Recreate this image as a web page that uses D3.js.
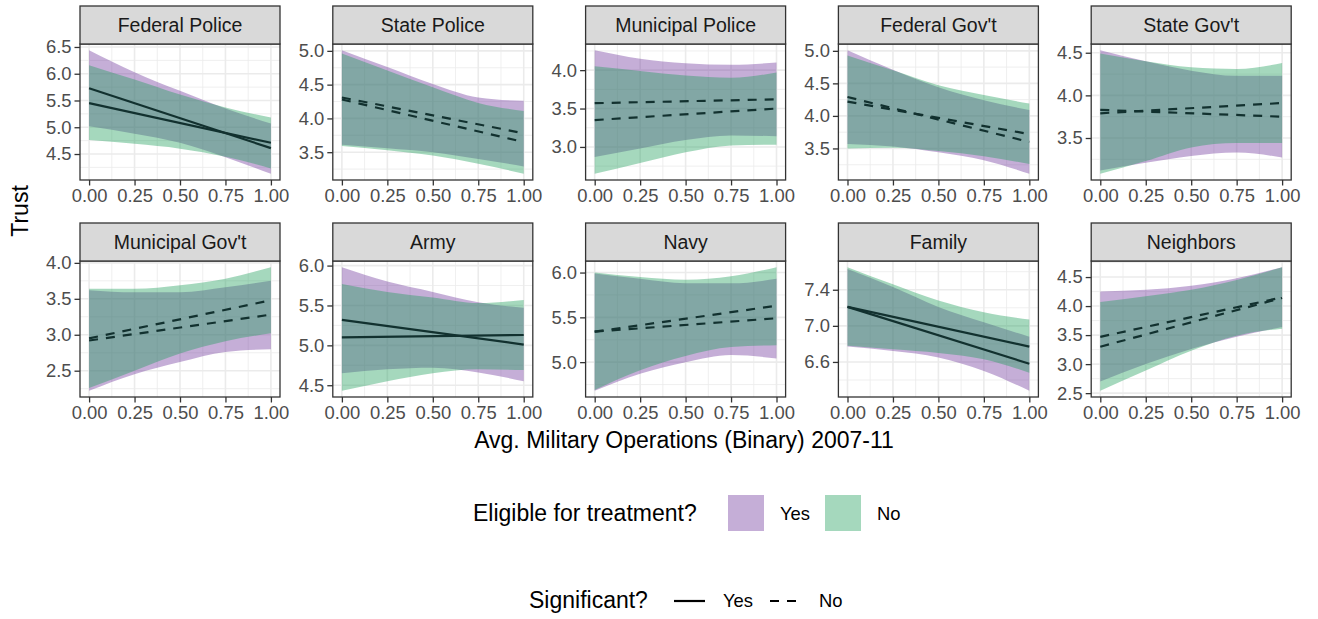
<!DOCTYPE html>
<html>
<head>
<meta charset="utf-8">
<script src="https://cdn.jsdelivr.net/npm/d3@7"></script>
<style>
  body { margin: 0; background: #fff; }
  svg { font-family: "Liberation Sans", Arial, sans-serif; }
</style>
</head>
<body>
<script>
let W = 1318, H = 619;

// data
let panels = ["Federal Police", "State Police", "Municipal Police", "Federal Gov't", "State Gov't",
              "Municipal Gov't", "Army", "Navy", "Family", "Neighbors"];
let xKnots = [0, 0.25, 0.5, 0.75, 1];
let xTicks = [0, 0.25, 0.5, 0.75, 1];

let yesUpper = [
  [6.44, 6.03, 5.68, 5.35, 5.07],
  [5.01, 4.76, 4.51, 4.31, 4.26],
  [4.26, 4.15, 4.09, 4.07, 4.10],
  [5.01, 4.71, 4.44, 4.24, 4.09],
  [4.53, 4.40, 4.29, 4.23, 4.23],
  [3.62, 3.59, 3.59, 3.66, 3.75],
  [5.98, 5.80, 5.67, 5.54, 5.47],
  [5.99, 5.93, 5.88, 5.88, 5.93],
  [7.63, 7.43, 7.21, 7.04, 6.88],
  [4.25, 4.28, 4.35, 4.48, 4.67]
];
let yesLower = [
  [5.02, 4.88, 4.71, 4.44, 4.13],
  [3.61, 3.56, 3.50, 3.40, 3.29],
  [2.87, 2.98, 3.09, 3.15, 3.14],
  [3.57, 3.53, 3.44, 3.32, 3.11],
  [3.12, 3.21, 3.29, 3.33, 3.27],
  [2.22, 2.45, 2.62, 2.76, 2.80],
  [4.65, 4.70, 4.72, 4.66, 4.55],
  [4.68, 4.87, 5.00, 5.08, 5.04],
  [6.77, 6.72, 6.65, 6.50, 6.28],
  [2.70, 3.00, 3.26, 3.47, 3.64]
];
let noUpper = [
  [6.16, 5.89, 5.61, 5.37, 5.18],
  [4.96, 4.71, 4.46, 4.23, 4.11],
  [4.05, 3.99, 3.93, 3.90, 3.97],
  [4.93, 4.70, 4.47, 4.32, 4.19],
  [4.49, 4.40, 4.33, 4.31, 4.38],
  [3.64, 3.64, 3.69, 3.78, 3.94],
  [5.77, 5.67, 5.60, 5.53, 5.57],
  [6.00, 5.95, 5.92, 5.96, 6.06],
  [7.65, 7.46, 7.28, 7.15, 7.07],
  [4.07, 4.17, 4.28, 4.45, 4.67]
];
let noLower = [
  [4.76, 4.69, 4.60, 4.45, 4.23],
  [3.59, 3.53, 3.45, 3.33, 3.18],
  [2.65, 2.79, 2.93, 3.02, 3.03],
  [3.50, 3.51, 3.46, 3.38, 3.26],
  [3.08, 3.23, 3.39, 3.44, 3.44],
  [2.26, 2.50, 2.74, 2.91, 3.02],
  [4.43, 4.55, 4.65, 4.70, 4.69],
  [4.69, 4.91, 5.07, 5.17, 5.19],
  [6.78, 6.74, 6.70, 6.63, 6.48],
  [2.54, 2.89, 3.23, 3.49, 3.61]
];
// straight fitted lines: value at x=0 and x=1
let yesLine = [[5.73, 4.61], [4.31, 3.78], [3.57, 3.62], [4.29, 3.60], [3.83, 3.75],
               [2.92, 3.28], [5.32, 5.01], [5.34, 5.49], [7.21, 6.58], [3.47, 4.15]];
let noLine  = [[5.45, 4.71], [4.28, 3.65], [3.35, 3.50], [4.22, 3.72], [3.79, 3.91],
               [2.95, 3.48], [5.10, 5.13], [5.34, 5.63], [7.21, 6.77], [3.30, 4.14]];
let significant = [true, false, false, false, false, false, true, false, true, false];
let yTicks = [
  [4.5, 5.0, 5.5, 6.0, 6.5],
  [3.5, 4.0, 4.5, 5.0],
  [3.0, 3.5, 4.0],
  [3.5, 4.0, 4.5, 5.0],
  [3.5, 4.0, 4.5],
  [2.5, 3.0, 3.5, 4.0],
  [4.5, 5.0, 5.5, 6.0],
  [5.0, 5.5, 6.0],
  [6.6, 7.0, 7.4],
  [2.5, 3.0, 3.5, 4.0, 4.5]
];

let groups = ["Yes", "No"];
let fillColors = { Yes: "#6e349b", No: "#1e9d5a" };
let fillAlpha = 0.4;
let lineColor = "#12312f";
let dash = "9,8";

let svg = d3.select("body").append("svg")
  .attr("width", W).attr("height", H);

let pad = { left: 80, step: 252.8, w: 200 };
let rowStrip = [6, 223];
let stripH = 38;
let plotH = 136;

let smallFont = 18.4, stripFont = 19.5, bigFont = 23;

panels.forEach((name, i) => {
  let col = i % 5, row = Math.floor(i / 5);
  let x0 = pad.left + col * pad.step;
  let top = rowStrip[row] + stripH;
  let g = svg.append("g").attr("transform", "translate(" + x0 + "," + top + ")");

  let xScale = d3.scaleLinear().domain([-0.05, 1.05]).range([0, pad.w]);
  let all = yesUpper[i].concat(yesLower[i], noUpper[i], noLower[i]);
  let ext = d3.extent(all);
  let e = (ext[1] - ext[0]) * 0.05;
  let yScale = d3.scaleLinear().domain([ext[0] - e, ext[1] + e]).range([plotH, 0]);

  // grid
  let st = yTicks[i][1] - yTicks[i][0];
  let minorY = [];
  for (let k = -1; k < yTicks[i].length; k++) {
    let v = yTicks[i][0] + st * (k + 0.5);
    if (v > yScale.domain()[0] && v < yScale.domain()[1]) minorY.push(v);
  }
  let minorX = [0.125, 0.375, 0.625, 0.875];
  g.selectAll(".gmy").data(minorY).enter().append("line")
    .attr("x1", 0).attr("x2", pad.w)
    .attr("y1", d => yScale(d)).attr("y2", d => yScale(d))
    .attr("stroke", "#ebebeb").attr("stroke-width", 0.8);
  g.selectAll(".gmx").data(minorX).enter().append("line")
    .attr("y1", 0).attr("y2", plotH)
    .attr("x1", d => xScale(d)).attr("x2", d => xScale(d))
    .attr("stroke", "#ebebeb").attr("stroke-width", 0.8);
  g.selectAll(".gy").data(yTicks[i]).enter().append("line")
    .attr("x1", 0).attr("x2", pad.w)
    .attr("y1", d => yScale(d)).attr("y2", d => yScale(d))
    .attr("stroke", "#ebebeb").attr("stroke-width", 1.6);
  g.selectAll(".gx").data(xTicks).enter().append("line")
    .attr("y1", 0).attr("y2", plotH)
    .attr("x1", d => xScale(d)).attr("x2", d => xScale(d))
    .attr("stroke", "#ebebeb").attr("stroke-width", 1.6);

  // ribbons
  let bands = {
    Yes: xKnots.map((x, k) => ({ x: x, lo: yesLower[i][k], hi: yesUpper[i][k] })),
    No: xKnots.map((x, k) => ({ x: x, lo: noLower[i][k], hi: noUpper[i][k] }))
  };
  let area = d3.area()
    .x(d => xScale(d.x))
    .y0(d => yScale(d.lo))
    .y1(d => yScale(d.hi))
    .curve(d3.curveMonotoneX);
  groups.forEach(gr => {
    g.append("path")
      .attr("d", area(bands[gr]))
      .attr("fill", fillColors[gr])
      .attr("fill-opacity", fillAlpha);
  });

  // fitted lines
  let lines = { Yes: yesLine[i], No: noLine[i] };
  let line = d3.line().x(d => xScale(d[0])).y(d => yScale(d[1]));
  groups.forEach(gr => {
    g.append("path")
      .attr("d", line([[0, lines[gr][0]], [1, lines[gr][1]]]))
      .attr("fill", "none")
      .attr("stroke", lineColor)
      .attr("stroke-width", 2.2)
      .attr("stroke-dasharray", significant[i] ? null : dash);
  });

  // border
  g.append("rect")
    .attr("width", pad.w).attr("height", plotH)
    .attr("fill", "none").attr("stroke", "#333333").attr("stroke-width", 1.3);

  // strip
  g.append("rect")
    .attr("y", -stripH).attr("width", pad.w).attr("height", stripH)
    .attr("fill", "#d9d9d9").attr("stroke", "#333333").attr("stroke-width", 1.3);
  g.append("text")
    .text(name)
    .attr("x", pad.w / 2).attr("y", -stripH / 2)
    .attr("dy", "0.35em")
    .attr("text-anchor", "middle")
    .attr("font-size", stripFont)
    .attr("fill", "#1a1a1a");

  // axes
  let xAxis = g.append("g")
    .attr("transform", "translate(0," + plotH + ")")
    .call(d3.axisBottom(xScale).tickValues(xTicks).tickFormat(d3.format(".2f"))
      .tickSize(5.5).tickPadding(3).tickSizeOuter(0));
  let yAxis = g.append("g")
    .call(d3.axisLeft(yScale).tickValues(yTicks[i]).tickFormat(d3.format(".1f"))
      .tickSize(5.5).tickPadding(3).tickSizeOuter(0));
  [xAxis, yAxis].forEach(a => {
    a.select(".domain").remove();
    a.selectAll("line").attr("stroke", "#333333").attr("stroke-width", 1.3);
    a.selectAll("text").attr("fill", "#4d4d4d").attr("font-size", smallFont)
      .attr("font-family", "Liberation Sans, Arial, sans-serif");
  });
});

// axis titles
svg.append("text")
  .text("Avg. Military Operations (Binary) 2007-11")
  .attr("x", 684).attr("y", 448)
  .attr("text-anchor", "middle")
  .attr("font-size", bigFont);
svg.append("text")
  .text("Trust")
  .attr("transform", "rotate(-90)")
  .attr("x", -211).attr("y", 28)
  .attr("text-anchor", "middle")
  .attr("font-size", bigFont);

// legend: eligible
let leg1 = svg.append("g");
leg1.append("text").text("Eligible for treatment?")
  .attr("x", 473).attr("y", 521).attr("font-size", bigFont);
let keyX = [728, 825];
groups.forEach((gr, k) => {
  leg1.append("rect")
    .attr("x", keyX[k]).attr("y", 495).attr("width", 36).attr("height", 36)
    .attr("fill", fillColors[gr]).attr("fill-opacity", fillAlpha);
  leg1.append("text").text(gr)
    .attr("x", keyX[k] + 52).attr("y", 519.5).attr("font-size", smallFont);
});

// legend: significant
let leg2 = svg.append("g");
leg2.append("text").text("Significant?")
  .attr("x", 529).attr("y", 608).attr("font-size", bigFont);
let sigKeys = [{ lab: "Yes", x: 674, dash: null }, { lab: "No", x: 770, dash: dash }];
sigKeys.forEach(s => {
  leg2.append("line")
    .attr("x1", s.x).attr("x2", s.x + 31)
    .attr("y1", 601).attr("y2", 601)
    .attr("stroke", "#000").attr("stroke-width", 2.2)
    .attr("stroke-dasharray", s.dash);
  leg2.append("text").text(s.lab)
    .attr("x", s.x + 49).attr("y", 607).attr("font-size", smallFont);
});
</script>
</body>
</html>
